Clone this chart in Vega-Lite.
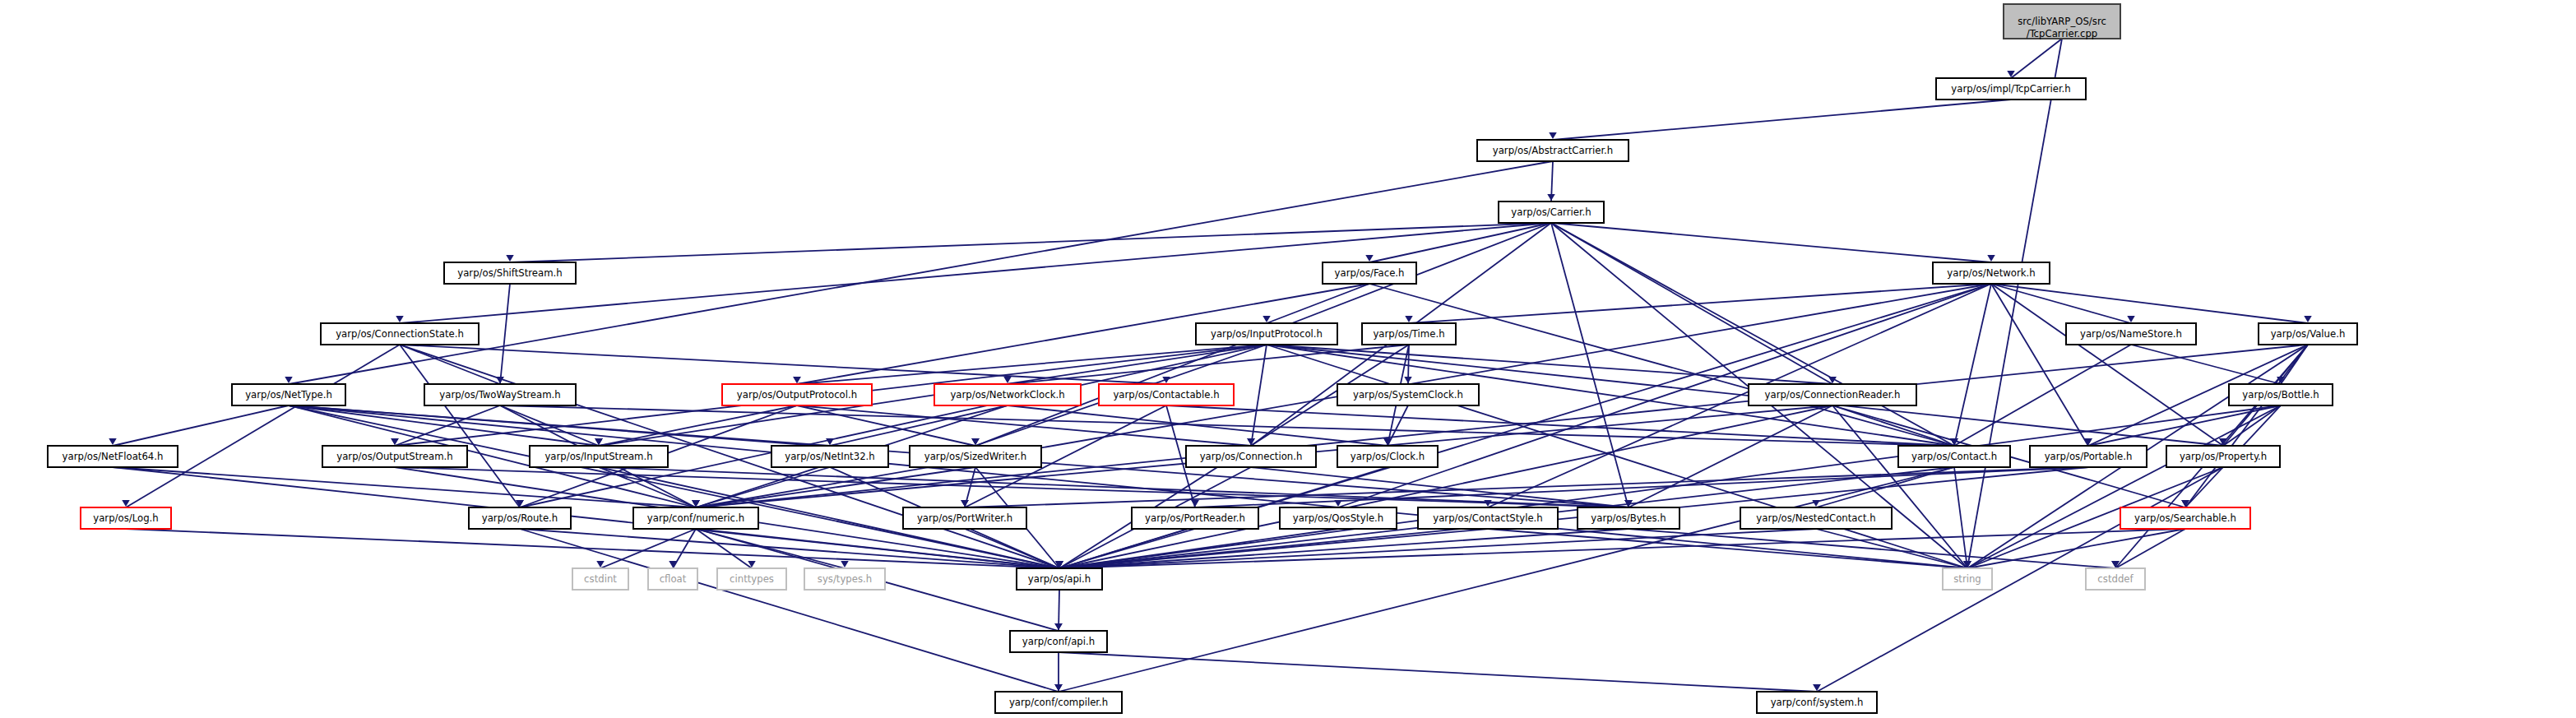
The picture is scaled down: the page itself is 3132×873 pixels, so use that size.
{
  "$schema": "https://vega.github.io/schema/vega-lite/v6.json",
  "width": 3132,
  "height": 873,
  "autosize": "none",
  "padding": 0,
  "background": "white",
  "config": {"view": {"stroke": null}},
  "datasets": {
    "nodes": [
      {"id": "cpp", "label": "src/libYARP_OS/src\n/TcpCarrier.cpp", "x1": 1218, "x2": 1289, "cx": 1253.5, "cy": 13, "y1": 2.5, "y2": 23.5, "kind": "root"},
      {"id": "TcpCarrier", "label": "yarp/os/impl/TcpCarrier.h", "x1": 1177, "x2": 1268, "cx": 1222.5, "cy": 54, "y1": 47.5, "y2": 60.5, "kind": "n"},
      {"id": "AbstractCarrier", "label": "yarp/os/AbstractCarrier.h", "x1": 898, "x2": 990, "cx": 944, "cy": 91.5, "y1": 85, "y2": 98, "kind": "n"},
      {"id": "Carrier", "label": "yarp/os/Carrier.h", "x1": 911, "x2": 975, "cx": 943, "cy": 129, "y1": 122.5, "y2": 135.5, "kind": "n"},
      {"id": "ShiftStream", "label": "yarp/os/ShiftStream.h", "x1": 270, "x2": 350, "cx": 310, "cy": 166, "y1": 159.5, "y2": 172.5, "kind": "n"},
      {"id": "Face", "label": "yarp/os/Face.h", "x1": 804, "x2": 861, "cx": 832.5, "cy": 166, "y1": 159.5, "y2": 172.5, "kind": "n"},
      {"id": "Network", "label": "yarp/os/Network.h", "x1": 1175, "x2": 1246, "cx": 1210.5, "cy": 166, "y1": 159.5, "y2": 172.5, "kind": "n"},
      {"id": "ConnectionState", "label": "yarp/os/ConnectionState.h", "x1": 195, "x2": 291, "cx": 243, "cy": 203, "y1": 196.5, "y2": 209.5, "kind": "n"},
      {"id": "InputProtocol", "label": "yarp/os/InputProtocol.h", "x1": 727, "x2": 813, "cx": 770, "cy": 203, "y1": 196.5, "y2": 209.5, "kind": "n"},
      {"id": "Time", "label": "yarp/os/Time.h", "x1": 828, "x2": 885, "cx": 856.5, "cy": 203, "y1": 196.5, "y2": 209.5, "kind": "n"},
      {"id": "NameStore", "label": "yarp/os/NameStore.h", "x1": 1256, "x2": 1335, "cx": 1295.5, "cy": 203, "y1": 196.5, "y2": 209.5, "kind": "n"},
      {"id": "Value", "label": "yarp/os/Value.h", "x1": 1373, "x2": 1433, "cx": 1403, "cy": 203, "y1": 196.5, "y2": 209.5, "kind": "n"},
      {"id": "NetType", "label": "yarp/os/NetType.h", "x1": 141, "x2": 210, "cx": 175.5, "cy": 240, "y1": 233.5, "y2": 246.5, "kind": "n"},
      {"id": "TwoWayStream", "label": "yarp/os/TwoWayStream.h", "x1": 258, "x2": 350, "cx": 304, "cy": 240, "y1": 233.5, "y2": 246.5, "kind": "n"},
      {"id": "OutputProtocol", "label": "yarp/os/OutputProtocol.h", "x1": 439, "x2": 530, "cx": 484.5, "cy": 240, "y1": 233.5, "y2": 246.5, "kind": "red"},
      {"id": "NetworkClock", "label": "yarp/os/NetworkClock.h", "x1": 568, "x2": 657, "cx": 612.5, "cy": 240, "y1": 233.5, "y2": 246.5, "kind": "red"},
      {"id": "Contactable", "label": "yarp/os/Contactable.h", "x1": 668, "x2": 750, "cx": 709, "cy": 240, "y1": 233.5, "y2": 246.5, "kind": "red"},
      {"id": "SystemClock", "label": "yarp/os/SystemClock.h", "x1": 813, "x2": 899, "cx": 856, "cy": 240, "y1": 233.5, "y2": 246.5, "kind": "n"},
      {"id": "ConnectionReader", "label": "yarp/os/ConnectionReader.h", "x1": 1063, "x2": 1165, "cx": 1114, "cy": 240, "y1": 233.5, "y2": 246.5, "kind": "n"},
      {"id": "Bottle", "label": "yarp/os/Bottle.h", "x1": 1355, "x2": 1418, "cx": 1386.5, "cy": 240, "y1": 233.5, "y2": 246.5, "kind": "n"},
      {"id": "NetFloat64", "label": "yarp/os/NetFloat64.h", "x1": 29, "x2": 108, "cx": 68.5, "cy": 277.5, "y1": 271, "y2": 284, "kind": "n"},
      {"id": "OutputStream", "label": "yarp/os/OutputStream.h", "x1": 196, "x2": 284, "cx": 240, "cy": 277.5, "y1": 271, "y2": 284, "kind": "n"},
      {"id": "InputStream", "label": "yarp/os/InputStream.h", "x1": 322, "x2": 406, "cx": 364, "cy": 277.5, "y1": 271, "y2": 284, "kind": "n"},
      {"id": "NetInt32", "label": "yarp/os/NetInt32.h", "x1": 469, "x2": 540, "cx": 504.5, "cy": 277.5, "y1": 271, "y2": 284, "kind": "n"},
      {"id": "SizedWriter", "label": "yarp/os/SizedWriter.h", "x1": 553, "x2": 633, "cx": 593, "cy": 277.5, "y1": 271, "y2": 284, "kind": "n"},
      {"id": "Connection", "label": "yarp/os/Connection.h", "x1": 721, "x2": 800, "cx": 760.5, "cy": 277.5, "y1": 271, "y2": 284, "kind": "n"},
      {"id": "Clock", "label": "yarp/os/Clock.h", "x1": 813, "x2": 874, "cx": 843.5, "cy": 277.5, "y1": 271, "y2": 284, "kind": "n"},
      {"id": "Contact", "label": "yarp/os/Contact.h", "x1": 1154, "x2": 1222, "cx": 1188, "cy": 277.5, "y1": 271, "y2": 284, "kind": "n"},
      {"id": "Portable", "label": "yarp/os/Portable.h", "x1": 1234, "x2": 1305, "cx": 1269.5, "cy": 277.5, "y1": 271, "y2": 284, "kind": "n"},
      {"id": "Property", "label": "yarp/os/Property.h", "x1": 1317, "x2": 1386, "cx": 1351.5, "cy": 277.5, "y1": 271, "y2": 284, "kind": "n"},
      {"id": "Log", "label": "yarp/os/Log.h", "x1": 49, "x2": 104, "cx": 76.5, "cy": 315, "y1": 308.5, "y2": 321.5, "kind": "red"},
      {"id": "Route", "label": "yarp/os/Route.h", "x1": 285, "x2": 347, "cx": 316, "cy": 315, "y1": 308.5, "y2": 321.5, "kind": "n"},
      {"id": "numeric", "label": "yarp/conf/numeric.h", "x1": 385, "x2": 461, "cx": 423, "cy": 315, "y1": 308.5, "y2": 321.5, "kind": "n"},
      {"id": "PortWriter", "label": "yarp/os/PortWriter.h", "x1": 549, "x2": 624, "cx": 586.5, "cy": 315, "y1": 308.5, "y2": 321.5, "kind": "n"},
      {"id": "PortReader", "label": "yarp/os/PortReader.h", "x1": 688, "x2": 765, "cx": 726.5, "cy": 315, "y1": 308.5, "y2": 321.5, "kind": "n"},
      {"id": "QosStyle", "label": "yarp/os/QosStyle.h", "x1": 778, "x2": 849, "cx": 813.5, "cy": 315, "y1": 308.5, "y2": 321.5, "kind": "n"},
      {"id": "ContactStyle", "label": "yarp/os/ContactStyle.h", "x1": 862, "x2": 947, "cx": 904.5, "cy": 315, "y1": 308.5, "y2": 321.5, "kind": "n"},
      {"id": "Bytes", "label": "yarp/os/Bytes.h", "x1": 959, "x2": 1021, "cx": 990, "cy": 315, "y1": 308.5, "y2": 321.5, "kind": "n"},
      {"id": "NestedContact", "label": "yarp/os/NestedContact.h", "x1": 1058, "x2": 1150, "cx": 1104, "cy": 315, "y1": 308.5, "y2": 321.5, "kind": "n"},
      {"id": "Searchable", "label": "yarp/os/Searchable.h", "x1": 1289, "x2": 1368, "cx": 1328.5, "cy": 315, "y1": 308.5, "y2": 321.5, "kind": "red"},
      {"id": "cstdint", "label": "cstdint", "x1": 348, "x2": 382, "cx": 365, "cy": 352, "y1": 345.5, "y2": 358.5, "kind": "sys"},
      {"id": "cfloat", "label": "cfloat", "x1": 394, "x2": 424, "cx": 409, "cy": 352, "y1": 345.5, "y2": 358.5, "kind": "sys"},
      {"id": "cinttypes", "label": "cinttypes", "x1": 436, "x2": 478, "cx": 457, "cy": 352, "y1": 345.5, "y2": 358.5, "kind": "sys"},
      {"id": "systypes", "label": "sys/types.h", "x1": 489, "x2": 538, "cx": 513.5, "cy": 352, "y1": 345.5, "y2": 358.5, "kind": "sys"},
      {"id": "api", "label": "yarp/os/api.h", "x1": 618, "x2": 670, "cx": 644, "cy": 352, "y1": 345.5, "y2": 358.5, "kind": "n"},
      {"id": "string", "label": "string", "x1": 1181, "x2": 1211, "cx": 1196, "cy": 352, "y1": 345.5, "y2": 358.5, "kind": "sys"},
      {"id": "cstddef", "label": "cstddef", "x1": 1268, "x2": 1304, "cx": 1286, "cy": 352, "y1": 345.5, "y2": 358.5, "kind": "sys"},
      {"id": "confapi", "label": "yarp/conf/api.h", "x1": 614, "x2": 673, "cx": 643.5, "cy": 390, "y1": 383.5, "y2": 396.5, "kind": "n"},
      {"id": "compiler", "label": "yarp/conf/compiler.h", "x1": 605, "x2": 682, "cx": 643.5, "cy": 427, "y1": 420.5, "y2": 433.5, "kind": "n"},
      {"id": "system", "label": "yarp/conf/system.h", "x1": 1068, "x2": 1141, "cx": 1104.5, "cy": 427, "y1": 420.5, "y2": 433.5, "kind": "n"}
    ],
    "edges": [
      {"s": "cpp", "t": "TcpCarrier"}, {"s": "cpp", "t": "string"},
      {"s": "TcpCarrier", "t": "AbstractCarrier"},
      {"s": "AbstractCarrier", "t": "Carrier"}, {"s": "AbstractCarrier", "t": "NetType"},
      {"s": "Carrier", "t": "ShiftStream"}, {"s": "Carrier", "t": "Face"}, {"s": "Carrier", "t": "Network"},
      {"s": "Carrier", "t": "ConnectionState"}, {"s": "Carrier", "t": "ConnectionReader"}, {"s": "Carrier", "t": "Connection"},
      {"s": "Carrier", "t": "Contact"}, {"s": "Carrier", "t": "SizedWriter"}, {"s": "Carrier", "t": "Bytes"}, {"s": "Carrier", "t": "string"},
      {"s": "ShiftStream", "t": "TwoWayStream"},
      {"s": "Face", "t": "InputProtocol"}, {"s": "Face", "t": "OutputProtocol"}, {"s": "Face", "t": "Contact"},
      {"s": "Network", "t": "Time"}, {"s": "Network", "t": "NameStore"}, {"s": "Network", "t": "Value"},
      {"s": "Network", "t": "Contact"}, {"s": "Network", "t": "Portable"}, {"s": "Network", "t": "Property"},
      {"s": "Network", "t": "ContactStyle"}, {"s": "Network", "t": "QosStyle"}, {"s": "Network", "t": "numeric"}, {"s": "Network", "t": "api"},
      {"s": "ConnectionState", "t": "TwoWayStream"}, {"s": "ConnectionState", "t": "Contactable"}, {"s": "ConnectionState", "t": "Route"},
      {"s": "ConnectionState", "t": "Log"}, {"s": "ConnectionState", "t": "api"},
      {"s": "InputProtocol", "t": "OutputProtocol"}, {"s": "InputProtocol", "t": "InputStream"}, {"s": "InputProtocol", "t": "OutputStream"},
      {"s": "InputProtocol", "t": "SizedWriter"}, {"s": "InputProtocol", "t": "Connection"}, {"s": "InputProtocol", "t": "ConnectionReader"},
      {"s": "InputProtocol", "t": "Contact"}, {"s": "InputProtocol", "t": "Property"}, {"s": "InputProtocol", "t": "Route"}, {"s": "InputProtocol", "t": "string"},
      {"s": "Time", "t": "NetworkClock"}, {"s": "Time", "t": "SystemClock"}, {"s": "Time", "t": "Clock"}, {"s": "Time", "t": "api"},
      {"s": "NameStore", "t": "Contact"}, {"s": "NameStore", "t": "Bottle"},
      {"s": "Value", "t": "Bottle"}, {"s": "Value", "t": "Property"}, {"s": "Value", "t": "Portable"}, {"s": "Value", "t": "Searchable"},
      {"s": "Value", "t": "string"}, {"s": "Value", "t": "cstddef"}, {"s": "Value", "t": "numeric"},
      {"s": "NetType", "t": "NetFloat64"}, {"s": "NetType", "t": "NetInt32"}, {"s": "NetType", "t": "InputStream"},
      {"s": "NetType", "t": "numeric"}, {"s": "NetType", "t": "api"}, {"s": "NetType", "t": "string"}, {"s": "NetType", "t": "Bytes"},
      {"s": "TwoWayStream", "t": "InputStream"}, {"s": "TwoWayStream", "t": "OutputStream"}, {"s": "TwoWayStream", "t": "Contact"}, {"s": "TwoWayStream", "t": "numeric"},
      {"s": "OutputProtocol", "t": "InputStream"}, {"s": "OutputProtocol", "t": "SizedWriter"}, {"s": "OutputProtocol", "t": "Connection"}, {"s": "OutputProtocol", "t": "Route"},
      {"s": "NetworkClock", "t": "Clock"}, {"s": "NetworkClock", "t": "NetInt32"}, {"s": "NetworkClock", "t": "numeric"},
      {"s": "Contactable", "t": "PortWriter"}, {"s": "Contactable", "t": "PortReader"}, {"s": "Contactable", "t": "Contact"},
      {"s": "SystemClock", "t": "Clock"},
      {"s": "ConnectionReader", "t": "Bytes"}, {"s": "ConnectionReader", "t": "Contact"}, {"s": "ConnectionReader", "t": "numeric"},
      {"s": "ConnectionReader", "t": "string"}, {"s": "ConnectionReader", "t": "api"}, {"s": "ConnectionReader", "t": "Searchable"},
      {"s": "Bottle", "t": "Portable"}, {"s": "Bottle", "t": "Property"}, {"s": "Bottle", "t": "Searchable"}, {"s": "Bottle", "t": "string"}, {"s": "Bottle", "t": "api"},
      {"s": "NetFloat64", "t": "numeric"}, {"s": "NetFloat64", "t": "api"},
      {"s": "OutputStream", "t": "api"}, {"s": "OutputStream", "t": "Bytes"},
      {"s": "InputStream", "t": "numeric"}, {"s": "InputStream", "t": "Bytes"}, {"s": "InputStream", "t": "api"},
      {"s": "NetInt32", "t": "numeric"}, {"s": "NetInt32", "t": "api"},
      {"s": "SizedWriter", "t": "PortWriter"}, {"s": "SizedWriter", "t": "numeric"}, {"s": "SizedWriter", "t": "api"},
      {"s": "Connection", "t": "Bytes"}, {"s": "Connection", "t": "api"},
      {"s": "Clock", "t": "api"},
      {"s": "Contact", "t": "NestedContact"}, {"s": "Contact", "t": "string"}, {"s": "Contact", "t": "api"}, {"s": "Contact", "t": "compiler"},
      {"s": "Portable", "t": "PortWriter"}, {"s": "Portable", "t": "PortReader"}, {"s": "Portable", "t": "api"},
      {"s": "Property", "t": "string"}, {"s": "Property", "t": "system"},
      {"s": "Route", "t": "api"}, {"s": "Route", "t": "compiler"},
      {"s": "numeric", "t": "cstdint"}, {"s": "numeric", "t": "cfloat"}, {"s": "numeric", "t": "cinttypes"},
      {"s": "numeric", "t": "systypes"}, {"s": "numeric", "t": "api"}, {"s": "numeric", "t": "confapi"},
      {"s": "PortWriter", "t": "api"}, {"s": "PortReader", "t": "api"}, {"s": "QosStyle", "t": "api"},
      {"s": "ContactStyle", "t": "api"}, {"s": "ContactStyle", "t": "string"},
      {"s": "Bytes", "t": "api"}, {"s": "Bytes", "t": "cstddef"},
      {"s": "NestedContact", "t": "api"}, {"s": "NestedContact", "t": "string"},
      {"s": "Searchable", "t": "string"}, {"s": "Searchable", "t": "cstddef"}, {"s": "Searchable", "t": "api"},
      {"s": "Log", "t": "api"},
      {"s": "api", "t": "confapi"},
      {"s": "confapi", "t": "compiler"}, {"s": "confapi", "t": "system"}
    ]
  },
  "layer": [
    {
      "data": {"name": "edges"},
      "transform": [
        {"lookup": "s", "from": {"data": {"name": "nodes"}, "key": "id", "fields": ["cx", "y2"]}, "as": ["sx", "sy"]},
        {"lookup": "t", "from": {"data": {"name": "nodes"}, "key": "id", "fields": ["cx", "y1"]}, "as": ["tx", "ty"]}
      ],
      "layer": [
        {
          "mark": {"type": "rule", "color": "#191970", "strokeWidth": 1.8},
          "encoding": {
            "x": {"field": "sx", "type": "quantitative", "scale": {"domain": [0, 1566], "nice": false, "zero": false}, "axis": null},
            "y": {"field": "sy", "type": "quantitative", "scale": {"domain": [0, 436.5], "nice": false, "zero": false, "reverse": true}, "axis": null},
            "x2": {"field": "tx"},
            "y2": {"field": "ty"}
          }
        },
        {
          "mark": {"type": "point", "shape": "triangle-down", "filled": true, "color": "#191970", "size": 90, "opacity": 1, "yOffset": -5},
          "encoding": {
            "x": {"field": "tx", "type": "quantitative"},
            "y": {"field": "ty", "type": "quantitative"}
          }
        }
      ]
    },
    {
      "data": {"name": "nodes"},
      "layer": [
        {
          "mark": {"type": "rect", "strokeWidth": 2},
          "encoding": {
            "x": {"field": "x1", "type": "quantitative"},
            "x2": {"field": "x2"},
            "y": {"field": "y1", "type": "quantitative"},
            "y2": {"field": "y2"},
            "fill": {"field": "kind", "type": "nominal", "scale": {"domain": ["root", "n", "red", "sys"], "range": ["#bfbfbf", "#ffffff", "#ffffff", "#ffffff"]}, "legend": null},
            "stroke": {"field": "kind", "type": "nominal", "scale": {"domain": ["root", "n", "red", "sys"], "range": ["#404040", "#000000", "#ff0000", "#bfbfbf"]}, "legend": null}
          }
        },
        {
          "mark": {"type": "text", "font": "DejaVu Sans Condensed", "fontSize": 13, "lineBreak": "\n", "lineHeight": 15, "baseline": "middle"},
          "encoding": {
            "x": {"field": "cx", "type": "quantitative"},
            "y": {"field": "cy", "type": "quantitative"},
            "text": {"field": "label"},
            "color": {"condition": {"test": "datum.kind === 'sys'", "value": "#9a9a9a"}, "value": "#000000"}
          }
        }
      ]
    }
  ]
}
